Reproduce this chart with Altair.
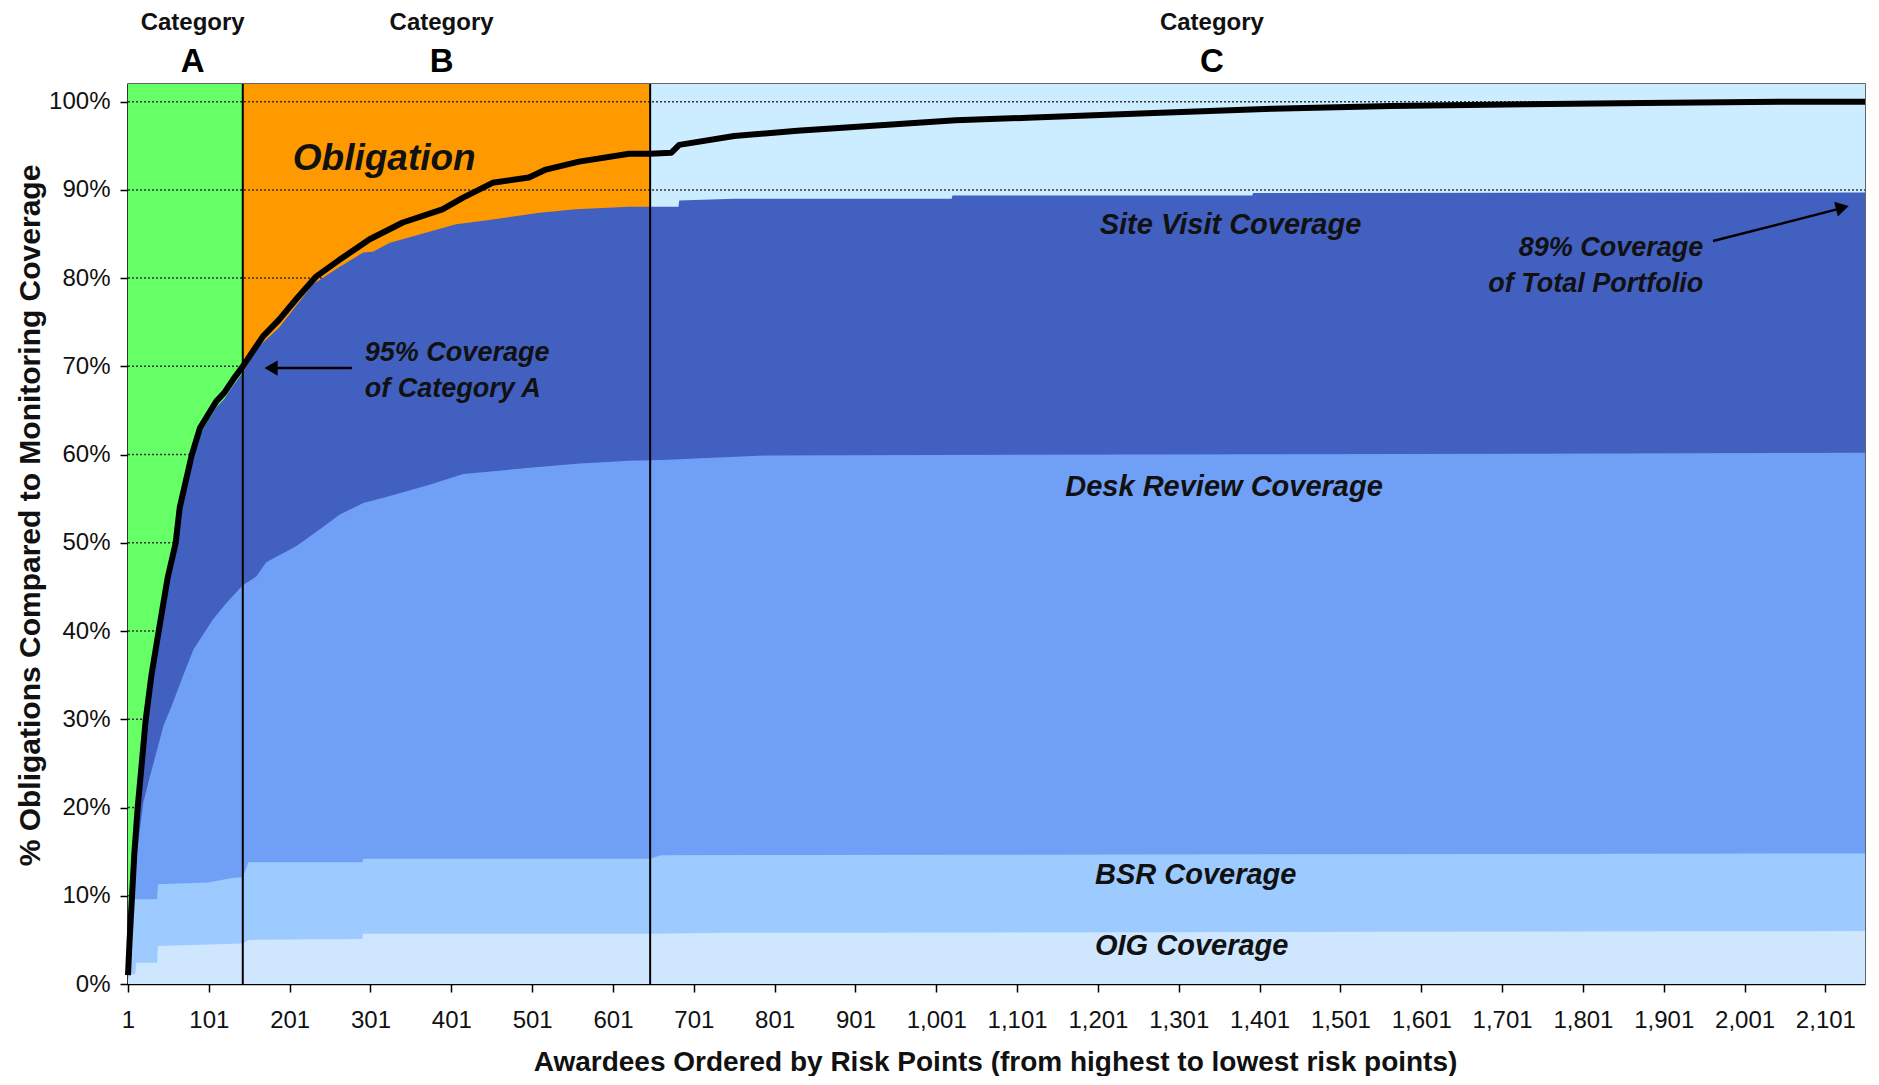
import altair as alt
import pandas as pd

# ---------------- data ----------------
# cumulative obligation (%) by awardee rank
obl_x = [1, 3, 6, 9, 13, 18, 23, 30, 39, 50, 60, 65, 70, 80, 90, 100, 110, 120, 131, 143,
         168, 188, 209, 234, 263, 300, 341, 390, 415, 452, 497, 518, 559, 621, 647, 673, 683,
         751, 829, 927, 1025, 1122, 1270, 1417, 1563, 1730, 1876, 2062, 2150]
obl_y = [1.0, 5, 10, 15, 20, 25, 30, 35, 40, 46, 50, 54, 56, 60, 63, 64.5, 66, 67, 68.5, 70,
         73.4, 75.3, 77.6, 80.2, 82.1, 84.4, 86.3, 87.8, 89.1, 90.8, 91.4, 92.3, 93.2, 94.1, 94.1, 94.2, 95.1,
         96.1, 96.7, 97.3, 97.9, 98.2, 98.7, 99.2, 99.5, 99.7, 99.85, 100, 100]

# cumulative coverage tops (%)
site_x = [1, 3, 6, 9, 13, 18, 23, 30, 39, 50, 60, 65, 70, 80, 90, 100, 110, 120, 131, 143,
          160, 188, 230, 263, 292, 304, 325, 407, 448, 510, 555, 621, 682, 683, 751, 1020, 1021,
          1392, 1393, 2150]
site_y = [0.8, 4.5, 9.5, 14.5, 19.3, 24.3, 29.3, 34.3, 39.3, 45.3, 49.3, 53.3, 55.3, 59.3, 62.3, 63.8, 65.3, 66.3, 67.8, 69.3,
          72.0, 74.4, 79.3, 81.3, 82.9, 83.0, 84.0, 86.1, 86.6, 87.4, 87.8, 88.1, 88.1, 88.8, 89.0, 89.0, 89.35,
          89.35, 89.65, 89.7]

desk_x = [1, 3, 6, 10, 15, 20, 28, 36, 45, 55, 69, 82, 106, 123, 143, 160, 172, 209, 238, 263,
          292, 325, 375, 416, 498, 560, 621, 662, 790, 2150]
desk_y = [0.8, 4.5, 9.5, 13, 17, 20.6, 23.5, 26.2, 29.3, 31.5, 34.9, 37.9, 41.3, 43.2, 45.2, 46.2, 47.8, 49.6, 51.5, 53.2,
          54.5, 55.3, 56.6, 57.8, 58.5, 59.0, 59.3, 59.4, 59.9, 60.2]

bsr_x = [1, 3, 6, 37, 38, 100, 130, 143, 150, 291, 292, 647, 660, 2150]
bsr_y = [0.8, 4.5, 9.6, 9.6, 11.3, 11.5, 12.0, 12.1, 13.8, 13.8, 14.2, 14.2, 14.6, 14.8]

oig_x = [1, 3, 10, 11, 37, 38, 143, 150, 291, 292, 647, 745, 2150]
oig_y = [0.5, 1.0, 1.2, 2.4, 2.4, 4.3, 4.6, 5.0, 5.1, 5.7, 5.7, 5.8, 6.0]

# categories
categories = ["A", "B", "C"]
cat_start = [1, 143, 647]
cat_end = [143, 647, 2150]
cat_colors = ["#66FF66", "#FF9900", "#CCECFF"]
cat_label_x = [81, 389, 1342]

x_ticks = list(range(1, 2102, 100))
y_ticks = list(range(0, 101, 10))

coverage_names = ["Site Visit Coverage", "Desk Review Coverage", "BSR Coverage", "OIG Coverage"]
coverage_colors = ["#4260C0", "#70A0F6", "#9DCBFF", "#CFE6FF"]
coverage_label_x = [1365, 1357, 1322, 1317]
coverage_label_y = [86.0, 56.3, 12.4, 4.3]

# ---------------- scales / axes ----------------
xscale = alt.Scale(domain=[1, 2150], nice=False, zero=False)
yscale = alt.Scale(domain=[0, 102], nice=False, zero=True)

xaxis = alt.Axis(values=x_ticks, format=",d", grid=False,
                 title="Awardees Ordered by Risk Points (from highest to lowest risk points)",
                 titleFontSize=28, titleFontWeight="bold", titleColor="#111",
                 titleX=867, titleY=78, titleBaseline="middle", titleAlign="center",
                 labelFontSize=24, labelColor="#111", labelPadding=16, labelFlush=False,
                 labelOverlap=False, tickSize=8, tickColor="black", tickWidth=1.5,
                 domainColor="black", domainWidth=1.5)
yaxis = alt.Axis(values=y_ticks, labelExpr="datum.value + '%'", grid=False,
                 title="% Obligations Compared to Monitoring Coverage",
                 titleFontSize=30, titleFontWeight="bold", titleColor="#111",
                 titleX=-98, titleY=431, titleBaseline="middle", titleAlign="center",
                 labelFontSize=24, labelColor="#111", labelPadding=10,
                 tickSize=8, tickColor="black", tickWidth=1.5,
                 domainColor="black", domainWidth=2)


def X(field):
    return alt.X(f"{field}:Q", scale=xscale, axis=xaxis)


def Y(field):
    return alt.Y(f"{field}:Q", scale=yscale, axis=yaxis)


# ---------------- layers ----------------
band_df = pd.DataFrame({"x": cat_start, "x2": cat_end, "y": [0] * 3, "y2": [102] * 3, "cat": categories})
bands = alt.Chart(band_df).mark_rect().encode(
    x=X("x"), x2="x2", y=Y("y"), y2="y2",
    color=alt.Color("cat:N", scale=alt.Scale(domain=categories, range=cat_colors), legend=None))

grid_df = pd.DataFrame({"y": y_ticks[1:]})
grid = alt.Chart(grid_df).mark_rule(color="#333333", strokeDash=[2, 2], strokeWidth=1.5).encode(
    x=alt.value(0), x2=alt.value(1737), y=Y("y"))


def area(xs, ys, color):
    df = pd.DataFrame({"x": xs, "y": ys})
    return alt.Chart(df).mark_area(color=color, interpolate="linear", opacity=1).encode(x=X("x"), y=Y("y"))


areas = [area(site_x, site_y, coverage_colors[0]),
         area(desk_x, desk_y, coverage_colors[1]),
         area(bsr_x, bsr_y, coverage_colors[2]),
         area(oig_x, oig_y, coverage_colors[3])]

bound_df = pd.DataFrame({"x": cat_start[1:], "y0": [0, 0], "y1": [102, 102]})
bounds = alt.Chart(bound_df).mark_rule(color="black", strokeWidth=2).encode(x=X("x"), y=Y("y0"), y2="y1")

obl_df = pd.DataFrame({"x": obl_x, "y": obl_y})
obl_line = alt.Chart(obl_df).mark_line(color="black", strokeWidth=6, interpolate="linear",
                                        strokeJoin="round").encode(x=X("x"), y=Y("y"))

cat_word_df = pd.DataFrame({"x": cat_label_x, "y": [108.9] * 3, "t": ["Category"] * 3})
cat_word = alt.Chart(cat_word_df).mark_text(fontSize=24, fontWeight="bold", color="#111",
                                             baseline="middle").encode(x=X("x"), y=Y("y"), text="t:N")
cat_letter_df = pd.DataFrame({"x": cat_label_x, "y": [104.5] * 3, "t": categories})
cat_letter = alt.Chart(cat_letter_df).mark_text(fontSize=33, fontWeight="bold", color="black",
                                                 baseline="middle").encode(x=X("x"), y=Y("y"), text="t:N")

oblig_df = pd.DataFrame({"x": [318], "y": [93.5], "t": ["Obligation"]})
oblig_txt = alt.Chart(oblig_df).mark_text(fontSize=37, fontWeight="bold", fontStyle="italic", color="#111",
                                          baseline="middle").encode(x=X("x"), y=Y("y"), text="t:N")

cov_df = pd.DataFrame({"x": coverage_label_x, "y": coverage_label_y, "t": coverage_names})
cov_txt = alt.Chart(cov_df).mark_text(fontSize=29, fontWeight="bold", fontStyle="italic", color="#111",
                                      baseline="middle").encode(x=X("x"), y=Y("y"), text="t:N")

note_a_df = pd.DataFrame({"x": [294, 294], "y": [71.5, 67.4], "t": ["95% Coverage", "of Category A"]})
note_a = alt.Chart(note_a_df).mark_text(fontSize=27, fontWeight="bold", fontStyle="italic", color="#111",
                                        align="left", baseline="middle").encode(x=X("x"), y=Y("y"), text="t:N")

note_b_df = pd.DataFrame({"x": [1950, 1950], "y": [83.4, 79.3], "t": ["89% Coverage", "of Total Portfolio"]})
note_b = alt.Chart(note_b_df).mark_text(fontSize=27, fontWeight="bold", fontStyle="italic", color="#111",
                                        align="right", baseline="middle").encode(x=X("x"), y=Y("y"), text="t:N")

shaft_df = pd.DataFrame({"x": [278, 1962], "x2": [180, 2120], "y": [69.8, 84.2], "y2": [69.8, 87.9]})
shafts = alt.Chart(shaft_df).mark_rule(color="black", strokeWidth=2.5).encode(
    x=X("x"), x2="x2", y=Y("y"), y2="y2")

head_a_df = pd.DataFrame({"x": [178], "y": [69.8]})
head_a = alt.Chart(head_a_df).mark_point(shape="triangle-left", filled=True, size=230, color="black",
                                         opacity=1).encode(x=X("x"), y=Y("y"))
head_b_df = pd.DataFrame({"x": [2122], "y": [88.0]})
head_b = alt.Chart(head_b_df).mark_point(shape="triangle-right", filled=True, size=230, color="black",
                                         opacity=1, angle=346).encode(x=X("x"), y=Y("y"))

chart = alt.layer(
    bands, grid, *areas, bounds, obl_line,
    cat_word, cat_letter, oblig_txt, cov_txt, note_a, note_b, shafts, head_a, head_b
).properties(
    width=1737, height=900,
    autosize=alt.AutoSizeParams(type="none"),
    padding={"left": 120, "top": 76, "right": 4, "bottom": 92},
    background="white",
).configure(font="Liberation Sans, Arial, sans-serif").configure_view(stroke="#333333", strokeWidth=1.5)

chart.save("out.html", embed_options={"renderer": "svg", "actions": False})
